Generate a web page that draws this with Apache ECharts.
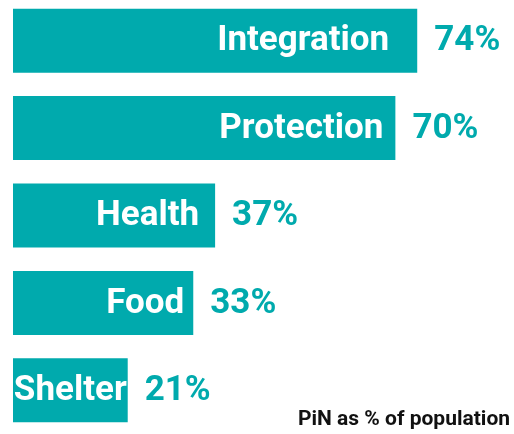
<!DOCTYPE html>
<html>
<head>
<meta charset="utf-8">
<script src="https://cdn.jsdelivr.net/npm/echarts@6/dist/echarts.min.js"></script>
<style>
  html, body { margin: 0; padding: 0; background: #fff; }
  #chart { width: 514px; height: 434px; }
</style>
</head>
<body>
<div id="chart"></div>
<script>
// PiN share of population by sector
const sectors = ['Integration', 'Protection', 'Health', 'Food', 'Shelter'];
const pinShare = [74, 70, 37, 33, 21];
// gap between bar end and sector name (style only)
const nameGap = [28, 12, 16, 9, 1];

const teal = '#00AAAD';
const font = 'Roboto, "Noto Sans", sans-serif';

const chart = echarts.init(document.getElementById('chart'));

chart.setOption({
  animation: false,
  grid: { left: 13, right: 64, top: -3, bottom: 0, outerBoundsMode: 'none' },
  xAxis: {
    type: 'value', min: 0, max: 80,
    show: false
  },
  yAxis: {
    type: 'category', data: sectors, inverse: true,
    show: false
  },
  series: [
    {
      type: 'bar',
      barWidth: 64,
      itemStyle: { color: teal },
      data: pinShare.map((v, i) => ({
        value: v,
        label: { distance: nameGap[i] }
      })),
      label: {
        show: true,
        position: 'insideRight',
        formatter: '{b}',
        color: '#fff',
        fontFamily: font,
        fontWeight: 'bold',
        fontSize: 35,
        offset: [0, 1]
      }
    },
    {
      type: 'bar',
      barWidth: 64,
      barGap: '-100%',
      silent: true,
      itemStyle: { color: 'transparent' },
      data: pinShare,
      label: {
        show: true,
        position: 'right',
        distance: 17,
        formatter: '{c}%',
        color: teal,
        fontFamily: font,
        fontWeight: 'bold',
        fontSize: 35,
        offset: [0, 1]
      }
    }
  ],
  graphic: [{
    type: 'text',
    right: 4,
    top: 409,
    style: {
      text: 'PiN as % of population',
      fill: '#111',
      font: 'bold 21px ' + font
    }
  }]
});
</script>
</body>
</html>
